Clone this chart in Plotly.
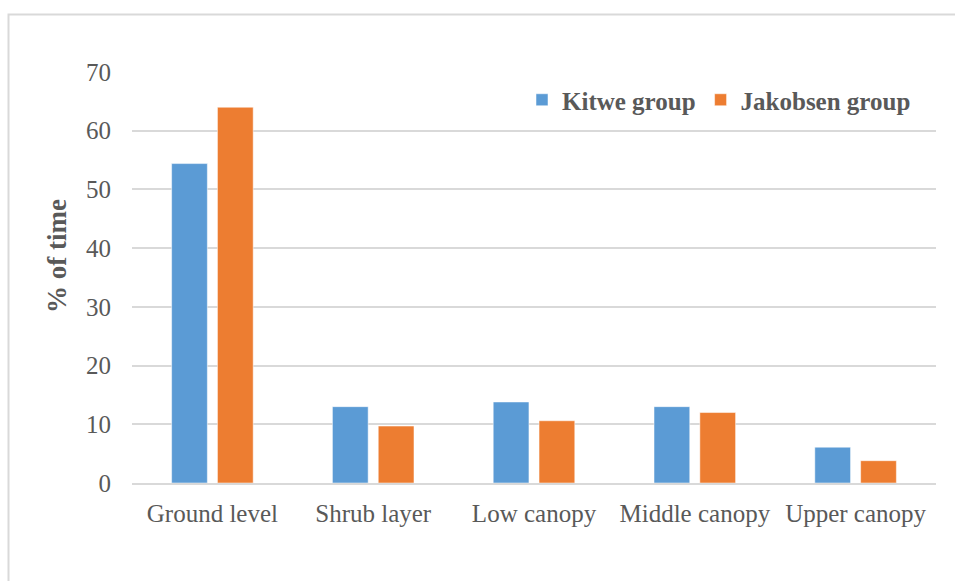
import plotly.graph_objects as go

# Vertical strata and share of observation time (%) for each group
strata = ["Ground level", "Shrub layer", "Low canopy", "Middle canopy", "Upper canopy"]
kitwe = [54.4, 13.0, 13.8, 13.0, 6.1]
jakobsen = [64.0, 9.7, 10.6, 12.0, 3.8]
y_ticks = [0, 10, 20, 30, 40, 50, 60, 70]

W, H = 955, 581
L, R, T, B = 132, 19, 72, 98
pw, ph = W - L - R, H - T - B

def px_x(x):
    return (x - L) / pw

def px_y(y):
    return (H - B - y) / ph

FONT = "Liberation Serif"
GREY = "#595959"
GRID = "#d9d9d9"

fig = go.Figure()
fig.add_trace(go.Bar(name="Kitwe group", x=strata, y=kitwe,
                     marker=dict(color="#5B9BD5", line=dict(color="rgba(255,255,255,0.5)", width=1))))
fig.add_trace(go.Bar(name="Jakobsen group", x=strata, y=jakobsen,
                     marker=dict(color="#ED7D31", line=dict(color="rgba(255,255,255,0.5)", width=1))))

fig.update_layout(
    width=W, height=H,
    margin=dict(l=L, r=R, t=T, b=B, pad=0),
    paper_bgcolor="white", plot_bgcolor="white",
    barmode="group", bargap=0.43, bargroupgap=0.22,
    font=dict(family=FONT, color=GREY, size=25),
    showlegend=True,
    legend=dict(orientation="h", x=px_x(916), xanchor="right", y=px_y(100), yanchor="middle",
                font=dict(family=FONT, size=25, color=GREY, weight="bold"),
                bgcolor="rgba(0,0,0,0)", itemwidth=30, traceorder="normal"),
    xaxis=dict(showgrid=False, showline=True, linecolor=GRID, linewidth=2,
               ticks="", tickfont=dict(family=FONT, size=25, color=GREY),
               ticklabelstandoff=7, fixedrange=True),
    yaxis=dict(range=[0, 70], tickvals=y_ticks, showgrid=True, gridcolor=GRID, gridwidth=2,
               zeroline=False, showline=False, ticks="",
               tickfont=dict(family=FONT, size=25, color=GREY),
               ticklabelstandoff=20, fixedrange=True),
    annotations=[dict(text="% of time", xref="paper", yref="paper",
                      x=px_x(57), y=px_y(256), textangle=-90, showarrow=False,
                      xanchor="center", yanchor="middle",
                      font=dict(family=FONT, size=27, color=GREY, weight="bold"))],
    shapes=[dict(type="path", xref="paper", yref="paper",
                 path=f"M {px_x(8.5)} {px_y(H + 5)} L {px_x(8.5)} {px_y(14.5)} L {px_x(W + 5)} {px_y(14.5)}",
                 line=dict(color=GRID, width=2))],
)

fig.write_html("out.html")
